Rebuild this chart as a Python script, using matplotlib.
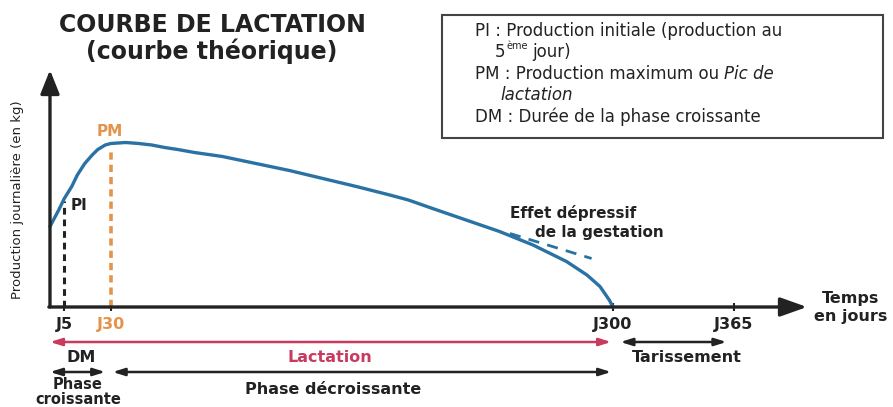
import matplotlib
matplotlib.use("Agg")
import matplotlib.pyplot as plt
from matplotlib.patches import Rectangle

# ---------------- data ----------------
days = [-2.7, 2, 5, 9, 12, 16, 20, 23, 27, 30, 38, 45, 52, 59, 66, 75, 90,
        108, 126, 144, 162, 180, 190, 203, 221, 239, 257, 275, 286, 293, 298,
        300]
production = [16.1, 19.4, 21.7, 24.1, 26.4, 28.7, 30.4, 31.5, 32.4, 32.7, 32.9,
              32.7, 32.4, 31.9, 31.5, 30.9, 30.1, 28.7, 27.3, 25.7, 24.1, 22.4,
              21.4, 19.7, 17.4, 15.1, 12.4, 9.1, 6.4, 4.1, 1.4, 0.0]
gestation_days = [244.6, 288.5]
gestation_prod = [14.7, 9.7]
pi_day, pi_prod = 5, 21.2
pm_day, pm_prod = 30, 31.4
tick_days = [5, 30, 300, 365]
tick_labels = ["J5", "J30", "J300", "J365"]
span_names = ["Lactation", "Tarissement", "Phase\ncroissante", "Phase décroissante"]
span_start = [-2.7, 304, -2.7, 31]
span_end = [299, 361, 27, 299]

# ---------------- layout ----------------
W, H = 893, 407
X_PX0, X_SCALE = 55.0, 1.86    # pixel of day 0, px per day
Y_PX0, Y_SCALE = 307, 5.0      # pixel of 0 kg, px per kg
AXIS_DAY = -2.7

BLUE = "#2a72a3"
ORANGE = "#e4934a"
RED = "#c93a5f"
DARK = "#222222"
FONT = "DejaVu Sans"

fig = plt.figure(figsize=(W / 100, H / 100), dpi=100)
ax = fig.add_axes([0, 0, 1, 1])
ax.set_xlim((0 - X_PX0) / X_SCALE, (W - X_PX0) / X_SCALE)
ax.set_ylim((Y_PX0 - H) / Y_SCALE, Y_PX0 / Y_SCALE)
ax.axis("off")


def ftxt(x, y, s, **kw):
    kw.setdefault("family", FONT)
    kw.setdefault("ha", "center")
    kw.setdefault("va", "center")
    return fig.text(x / W, 1 - y / H, s, **kw)


# axes arrows
ymax_kg = (Y_PX0 - 70) / Y_SCALE
xmax_day = (807 - X_PX0) / X_SCALE
ax.annotate("", xy=(AXIS_DAY, ymax_kg), xytext=(AXIS_DAY, 0),
            arrowprops=dict(arrowstyle="-|>,head_length=0.8,head_width=0.32",
                            lw=2.4, color=DARK, mutation_scale=18,
                            shrinkA=0, shrinkB=0))
ax.annotate("", xy=(xmax_day, 0), xytext=(AXIS_DAY - 0.6, 0),
            arrowprops=dict(arrowstyle="-|>,head_length=0.9,head_width=0.32",
                            lw=2.4, color=DARK, mutation_scale=18,
                            shrinkA=0, shrinkB=0))

# small ticks
for d in tick_days:
    ax.plot([d, d], [-0.8, 0.9], color=DARK, lw=1.5, solid_capstyle="butt")

# dashed reference lines
ax.plot([pi_day, pi_day], [0, pi_prod], color=DARK, lw=2.2, ls=(0, (2.2, 1.6)))
ax.plot([pm_day, pm_day], [0, pm_prod], color=ORANGE, lw=2.6, ls=(0, (2.0, 1.4)))

# curve
ax.plot(days, production, color=BLUE, lw=2.4, solid_capstyle="round",
        solid_joinstyle="round")
ax.plot(gestation_days, gestation_prod, color=BLUE, lw=2.0, ls=(0, (4, 3)))

# tick labels
for d, lab in zip(tick_days, tick_labels):
    x_px = X_PX0 + d * X_SCALE
    ftxt(x_px, 325, lab, fontsize=11.5, fontweight="bold",
         color=ORANGE if lab == "J30" else DARK)

# span arrows
span_y_px = [342, 342, 372, 372]
span_colors = [RED, DARK, DARK, DARK]
for s0, s1, ypx, c in zip(span_start, span_end, span_y_px, span_colors):
    yk = (Y_PX0 - ypx) / Y_SCALE
    ax.annotate("", xy=(s1, yk), xytext=(s0, yk),
                arrowprops=dict(arrowstyle="<|-|>,head_length=0.7,head_width=0.22",
                                lw=1.8, color=c, mutation_scale=10,
                                shrinkA=0, shrinkB=0))

# span labels
ftxt(330, 358, span_names[0], fontsize=11.5, fontweight="bold", color=RED)
ftxt(687, 358, span_names[1], fontsize=11.5, fontweight="bold", color=DARK)
ftxt(81, 358, "DM", fontsize=11.5, fontweight="bold", color=DARK)
ftxt(78, 392, span_names[2], fontsize=10.5, fontweight="bold", color=DARK,
     linespacing=0.95)
ftxt(333, 390, span_names[3], fontsize=11.5, fontweight="bold", color=DARK)

# point labels
ftxt(110, 131, "PM", fontsize=11, fontweight="bold", color=ORANGE)
ftxt(71, 206, "PI", fontsize=11, fontweight="bold", color=DARK, ha="left")
ftxt(510, 213, "Effet dépressif", fontsize=11, fontweight="bold", color=DARK, ha="left")
ftxt(535, 232, "de la gestation", fontsize=11, fontweight="bold", color=DARK, ha="left")
ftxt(851, 298, "Temps", fontsize=11.5, fontweight="bold", color=DARK)
ftxt(851, 316, "en jours", fontsize=11.5, fontweight="bold", color=DARK)

# axis label
ftxt(18, 200, "Production journalière (en kg)", fontsize=9.5, rotation=90, color=DARK)

# title
ftxt(212, 25, "COURBE DE LACTATION", fontsize=17, fontweight="bold", color=DARK)
ftxt(212, 51, "(courbe théorique)", fontsize=17, fontweight="bold", color=DARK)

# legend box
fig.patches.append(Rectangle((442 / W, 1 - 138 / H), (883 - 442) / W, (138 - 15) / H,
                             transform=fig.transFigure, fill=False,
                             edgecolor="#444444", lw=1.5))
LF = 12
ftxt(475, 31, "PI : Production initiale (production au", fontsize=LF, ha="left", color=DARK)
t5 = ftxt(495, 52, "5", fontsize=LF, ha="left", color=DARK)
t3 = ftxt(475, 74, "PM : Production maximum ou ", fontsize=LF, ha="left", color=DARK)
ftxt(500, 95, "lactation", fontsize=LF, ha="left", style="italic", color=DARK)
ftxt(475, 117, "DM : Durée de la phase croissante", fontsize=LF, ha="left", color=DARK)

fig.canvas.draw()
x5 = t5.get_window_extent().x1
te = ftxt(x5 + 1, 46, "ème", fontsize=7, ha="left", color=DARK)
fig.canvas.draw()
xe = te.get_window_extent().x1
ftxt(xe + 4, 52, "jour)", fontsize=LF, ha="left", color=DARK)
bb = t3.get_window_extent()
ftxt(bb.x1, 74, "Pic de", fontsize=LF, ha="left", style="italic", color=DARK)

fig.savefig("out.png", dpi=100)
